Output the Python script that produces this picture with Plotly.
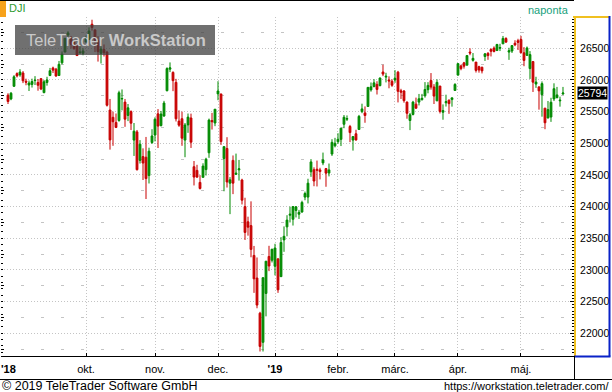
import plotly.graph_objects as go
import pandas as pd

# ---------------- data ----------------
symbol = "DJI"
holidays = ["2018-09-03", "2018-11-22", "2018-12-05", "2018-12-25", "2019-01-01",
            "2019-01-21", "2019-02-18", "2019-04-19"]
dates = [d.strftime("%Y-%m-%d") for d in pd.bdate_range("2018-08-23", "2019-05-21")
         if d.strftime("%Y-%m-%d") not in holidays]

opens = [25760, 25700, 25900, 26100, 26080, 26110, 25980, 25920, 25930, 25990,
         25960, 26020, 25800, 25960, 26070, 26190, 26170, 26070, 26270, 26440,
         26710, 26656, 26600, 26535, 26430, 26420, 26600, 26640, 26880, 26790,
         26620, 26420, 26480, 26440, 25525, 25410, 25330, 25360, 25700, 25650,
         25440, 25500, 25050, 25180, 24730, 24790, 24780, 24490, 25012, 25130,
         25465, 25280, 25430, 25830, 26170, 26119, 25962, 25350, 25388, 25050,
         25290, 25399, 24630, 24572, 24382, 24462, 24584, 24850, 25360, 25320,
         25780, 25779, 24760, 24918, 24370, 24730, 24510, 24580, 24420, 24000,
         23760, 23700, 23229, 22872, 22317, 21857, 22629, 23213, 23153, 23058,
         23176, 22894, 23474, 23680, 23864, 23800, 23940, 23880, 23915, 24150,
         24150, 24550, 24583, 24590, 24580, 24690, 24600, 24530, 24830, 24960,
         25025, 25062, 25300, 25380, 25265, 25050, 25150, 25218, 25500, 25480,
         25581, 25843, 25893, 25930, 25910, 26126, 26045, 26000, 25979, 26000,
         26123, 25829, 25825, 25650, 25360, 25455, 25618, 25650, 25690, 25750,
         25846, 25990, 25889, 25670, 25903, 25490, 25640, 25681, 25690, 25834,
         26076, 26222, 26270, 26233, 26440, 26310, 26282, 26210, 26200, 26370,
         26420, 26480, 26503, 26464, 26500, 26570, 26654, 26440, 26457, 26580,
         26620, 26639, 26429, 26388, 26180, 26290, 25935, 25890, 25768, 25555,
         25398, 25414, 25700, 25720, 25670, 25780]
highs = [25790, 25810, 26075, 26120, 26170, 26140, 26020, 25990, 26020, 26060,
         26015, 26030, 26000, 26050, 26190, 26210, 26190, 26300, 26450, 26660,
         26770, 26695, 26600, 26575, 26530, 26500, 26700, 26830, 26951, 26800,
         26690, 26530, 26560, 26460, 25700, 25500, 25470, 25830, 25850, 25700,
         25620, 25520, 25320, 25210, 25050, 24920, 25100, 24930, 25222, 25410,
         25540, 25510, 25670, 26200, 26277, 26136, 26017, 25520, 25500, 25320,
         25470, 25468, 24720, 24660, 24497, 24684, 24771, 25390, 25480, 25540,
         25980, 25780, 24956, 25096, 24466, 24808, 24837, 24737, 24440, 24140,
         23841, 24083, 23379, 23197, 22339, 22879, 23138, 23381, 23333, 23413,
         23176, 23518, 23687, 23864, 24000, 24002, 24009, 23948, 24093, 24237,
         24440, 24750, 24620, 24727, 24613, 24853, 24610, 24680, 25064, 25086,
         25159, 25239, 25446, 25440, 25290, 25106, 25213, 25448, 25625, 25582,
         25883, 25960, 26013, 25980, 26037, 26241, 26113, 26057, 26010, 26155,
         26143, 25860, 25840, 25660, 25480, 25670, 25721, 25779, 25780, 25966,
         25965, 26109, 25934, 26010, 25907, 25614, 25767, 25691, 25720, 25949,
         26258, 26240, 26285, 26392, 26500, 26425, 26282, 26224, 26210, 26426,
         26440, 26500, 26530, 26570, 26571, 26695, 26675, 26508, 26543, 26627,
         26650, 26696, 26518, 26528, 26455, 26296, 26050, 25900, 25977, 25555,
         25668, 25718, 25947, 25890, 25736, 25890]
lows = [25620, 25680, 25890, 26040, 26050, 25950, 25916, 25825, 25880, 25920,
        25830, 25840, 25790, 25910, 26060, 26110, 26050, 26065, 26245, 26440,
        26680, 26495, 26480, 26380, 26410, 26390, 26590, 26640, 26780, 26440,
        26290, 26260, 26370, 25580, 24900, 24960, 25240, 25340, 25520, 25260,
        25350, 25210, 24800, 24570, 24680, 24420, 24120, 24365, 24990, 25030,
        24925, 25265, 25420, 25820, 26124, 25823, 25344, 25260, 24960, 24780,
        25165, 24926, 24334, 24463, 24270, 24462, 24491, 24770, 25217, 25270,
        25680, 24974, 24242, 24301, 23881, 24197, 24500, 24411, 24034, 23473,
        23541, 23200, 22638, 22395, 21712, 21712, 22267, 22981, 23118, 22914,
        22638, 22894, 23286, 23531, 23750, 23701, 23829, 23805, 23903, 24100,
        24050, 24470, 24322, 24318, 24430, 24654, 24313, 24477, 24800, 24935,
        24990, 24956, 25238, 25351, 25018, 24884, 25040, 25218, 25475, 25324,
        25581, 25815, 25888, 25770, 25900, 26060, 25961, 25868, 25891, 25955,
        25645, 25700, 25641, 25388, 25208, 25440, 25545, 25598, 25673, 25721,
        25789, 25847, 25620, 25666, 25471, 25372, 25580, 25465, 25578, 25834,
        26076, 26153, 26179, 26233, 26391, 26289, 26117, 26115, 26103, 26300,
        26318, 26371, 26435, 26464, 26456, 26570, 26590, 26317, 26426, 26533,
        26473, 26420, 26217, 26388, 26016, 25810, 25875, 25531, 25420, 25222,
        25398, 25338, 25667, 25710, 25578, 25762]
closes = [25660, 25790, 26050, 26064, 26125, 25987, 25965, 25952, 25975, 25996,
          25916, 25857, 25971, 26000, 26146, 26155, 26062, 26247, 26406, 26657,
          26743, 26562, 26492, 26385, 26440, 26458, 26651, 26774, 26828, 26627,
          26447, 26487, 26430, 25600, 25053, 25340, 25250, 25798, 25706, 25380,
          25560, 25317, 25191, 24583, 24985, 24688, 24443, 24875, 25116, 25380,
          25271, 25462, 25635, 26180, 26191, 25989, 25387, 25286, 25080, 25289,
          25413, 25017, 24466, 24465, 24286, 24640, 24749, 25366, 25339, 25538,
          25826, 25027, 24947, 24389, 24423, 24370, 24527, 24597, 24101, 23592,
          23675, 23324, 22860, 22445, 21792, 22878, 23138, 23062, 23327, 23346,
          22686, 23433, 23531, 23787, 23879, 24001, 23996, 23910, 24066, 24207,
          24370, 24706, 24404, 24575, 24553, 24737, 24528, 24580, 25015, 25000,
          25064, 25239, 25411, 25390, 25169, 25106, 25053, 25425, 25543, 25439,
          25883, 25891, 25954, 25850, 26031, 26092, 26058, 25985, 25916, 26026,
          25820, 25807, 25673, 25473, 25450, 25650, 25554, 25703, 25710, 25849,
          25914, 25887, 25745, 25962, 25502, 25516, 25658, 25626, 25717, 25929,
          26258, 26179, 26218, 26385, 26425, 26341, 26150, 26157, 26143, 26412,
          26385, 26452, 26450, 26560, 26512, 26656, 26597, 26462, 26543, 26554,
          26593, 26430, 26308, 26505, 26400, 25965, 25967, 25828, 25942, 25324,
          25532, 25648, 25862, 25764, 25680, 25794]

month_dates = ["2018-10-01", "2018-11-01", "2018-12-03", "2019-01-02", "2019-02-01",
               "2019-03-01", "2019-04-01", "2019-05-01"]
month_labels = ["okt.", "nov.", "dec.", "<b>'19</b>", "febr.", "márc.", "ápr.", "máj."]
first_label = "<b>'18</b>"
price_levels = [22000, 22500, 23000, 23500, 24000, 24500, 25000, 25500, 26000, 26500]
mid_levels = [21750, 22250, 22750, 23250, 23750, 24250, 24750, 25250, 25750, 26250, 26750]

# ---------------- layout geometry ----------------
W, H = 612, 392
ML, MR, MT, MB = 1, 38, 17, 36
PW, PH = W - ML - MR, H - MT - MB


def px(x):
    return (x - ML) / PW


def py(y):
    return (H - MB - y) / PH


GREEN = "#008a00"
RED = "#c80000"
FONT = "Liberation Sans, Arial, sans-serif"
GRID = "#c4c4c4"

fig = go.Figure()
fig.add_trace(go.Candlestick(
    x=dates, open=opens, high=highs, low=lows, close=closes,
    increasing=dict(line=dict(color=GREEN, width=1), fillcolor=GREEN),
    decreasing=dict(line=dict(color=RED, width=1), fillcolor=RED),
    whiskerwidth=0, showlegend=False, hoverinfo="skip",
))
fig.add_trace(go.Scatter(x=[], y=[], yaxis="y2", showlegend=False, hoverinfo="skip"))

n = len(dates)
fig.update_layout(
    width=W, height=H,
    margin=dict(l=ML, r=MR, t=MT, b=MB, pad=0),
    paper_bgcolor="white", plot_bgcolor="white",
    font=dict(family=FONT, color="black"),
    showlegend=False,
    boxgap=0.2, boxgroupgap=0.25,
    xaxis=dict(
        type="category", categoryorder="array", categoryarray=dates,
        range=[-7 / 3, n + 2.67], rangeslider=dict(visible=False),
        tickmode="array", tickvals=month_dates, ticktext=month_labels,
        tickfont=dict(size=11, color="black"),
        showgrid=True, gridcolor=GRID, griddash="1px,2px", gridwidth=1,
        ticks="inside", ticklen=3, tickcolor="black",
        showline=True, linecolor="black", linewidth=1,
        zeroline=False, ticklabelstandoff=3,
    ),
    yaxis=dict(
        side="right", range=[21641, 26994],
        tickmode="array", tickvals=price_levels, ticktext=[str(v) for v in price_levels],
        tickfont=dict(size=10.5, color="black"),
        showgrid=True, gridcolor=GRID, griddash="1px,2px", gridwidth=1,
        ticks="inside", ticklen=4, tickcolor="black",
        minor=dict(dtick=50, tick0=0, ticks="inside", ticklen=2, tickcolor="black", showgrid=False),
        showline=True, linecolor="#f0c020", linewidth=2,
        zeroline=False, ticklabelstandoff=2,
    ),
    yaxis2=dict(
        overlaying="y", side="left", range=[21641, 26994],
        tickmode="array", tickvals=mid_levels, showticklabels=False,
        showgrid=True, gridcolor=GRID, griddash="3px,17px", gridwidth=1,
        ticks="inside", ticklen=3, tickcolor="black",
        minor=dict(dtick=100, tick0=0, ticks="inside", ticklen=2, tickcolor="black", showgrid=False),
        showline=False, zeroline=False,
    ),
)

shapes = [
    # watermark box
    dict(type="rect", xref="paper", yref="paper", x0=px(15), x1=px(215), y0=py(55), y1=py(25),
         fillcolor="rgba(62,62,62,0.74)", line=dict(width=0), layer="above"),
    # orange marker
    dict(type="rect", xref="paper", yref="paper", x0=px(0), x1=px(6), y0=py(17), y1=py(0),
         fillcolor="#f7a21b", line=dict(width=0), layer="above"),
    # top frame line
    dict(type="line", xref="paper", yref="paper", x0=px(0), x1=px(574), y0=py(0.5), y1=py(0.5),
         line=dict(color="black", width=1)),
    # price panel frame
    dict(type="line", xref="paper", yref="paper", x0=px(573), x1=px(610), y0=py(17), y1=py(17),
         line=dict(color="#f0c020", width=2)),
    dict(type="line", xref="paper", yref="paper", x0=px(609.5), x1=px(609.5), y0=py(16), y1=py(356.5),
         line=dict(color="#0a22c8", width=2)),
    dict(type="line", xref="paper", yref="paper", x0=px(574), x1=px(610.5), y0=py(356.5), y1=py(356.5),
         line=dict(color="#0a22c8", width=2)),
    # date band frame
    dict(type="line", xref="paper", yref="paper", x0=px(574.5), x1=px(574.5), y0=py(356), y1=py(379),
         line=dict(color="black", width=1)),
    dict(type="line", xref="paper", yref="paper", x0=px(0), x1=px(612), y0=py(379.5), y1=py(379.5),
         line=dict(color="black", width=1)),
]

annotations = [
    dict(text=symbol, xref="paper", yref="paper", x=px(7), y=py(8), xanchor="left", yanchor="middle",
         showarrow=False, font=dict(size=11, color="#2e9b2e")),
    dict(text="naponta", xref="paper", yref="paper", x=px(571), y=py(10), xanchor="right", yanchor="middle",
         showarrow=False, font=dict(size=11, color="#17a07c")),
    dict(text="TeleTrader <b>WorkStation</b>", xref="paper", yref="paper", x=px(116), y=py(40),
         xanchor="center", yanchor="middle", showarrow=False, font=dict(size=16.5, color="#c9c9c9")),
    dict(text=first_label, xref="x", yref="paper", x=dates[0], y=py(369), xanchor="center",
         yanchor="middle", showarrow=False, font=dict(size=11, color="black")),
    dict(text=f"{closes[-1]:.0f}", xref="paper", yref="y", x=px(607.5), y=closes[-1], xanchor="right",
         yanchor="middle", showarrow=False, bgcolor="black", borderpad=0,
         font=dict(size=10.5, color="white")),
    dict(text="© 2019 TeleTrader Software GmbH", xref="paper", yref="paper", x=px(0), y=py(386),
         xanchor="left", yanchor="middle", showarrow=False, font=dict(size=12.5, color="black")),
    dict(text="https://workstation.teletrader.com/", xref="paper", yref="paper", x=px(611), y=py(386),
         xanchor="right", yanchor="middle", showarrow=False, font=dict(size=11, color="black")),
]
fig.update_layout(shapes=shapes, annotations=annotations)

fig.write_html("out.html", config={"displayModeBar": False},
               post_script="document.body.style.margin='0';document.body.style.overflow='hidden';")
